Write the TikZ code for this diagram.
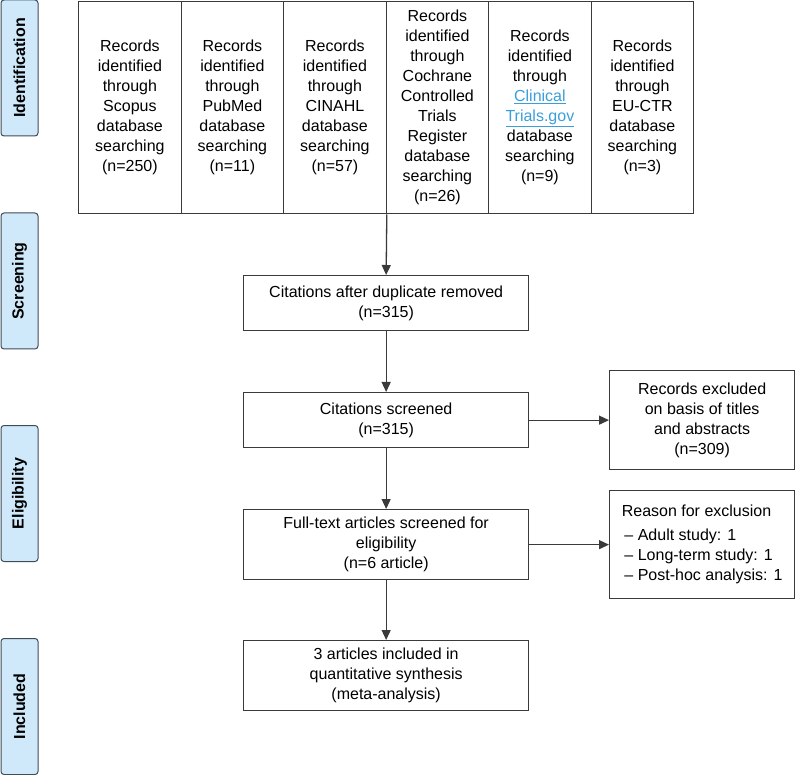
\documentclass[tikz,border=0pt]{standalone}
\usepackage{fontspec}
\setmainfont{Liberation Sans}
\usetikzlibrary{arrows.meta}
\definecolor{linegray}{HTML}{3A3A3A}
\definecolor{lblfill}{HTML}{CFE9FB}
\definecolor{lbldraw}{HTML}{3F4B57}
\definecolor{linkblue}{HTML}{3A9FD9}
\newcommand{\lnk}[1]{{\color{linkblue}\underline{#1}}}
\begin{document}
\begin{tikzpicture}[x=1pt,y=-1pt,
  font=\fontsize{16}{20}\selectfont,
  box/.style={draw=linegray, line width=1.3pt, rectangle, inner sep=0pt, anchor=north west, align=center},
  topbox/.style={box, minimum width=102.5pt, minimum height=212.5pt},
  mainbox/.style={box, minimum width=285pt},
  sidebox/.style={box, minimum width=185pt},
  lbl/.style={draw=lbldraw, fill=lblfill, rounded corners=3pt, line width=1pt, rotate=90,
    minimum width=136pt, minimum height=37pt, inner sep=0pt,
    font=\fontsize{16}{20}\selectfont\bfseries},
  arr/.style={draw=linegray, line width=1.3pt, -{Triangle[length=10pt,width=9pt]}}]

\useasboundingbox (0,0) rectangle (795,775);

% stage labels
\node[lbl] (lid) at (19.5,68) {Identification};
\node[lbl] (lsc) at (19.5,281) {Screening};
\node[lbl] (lel) at (19.5,493.5) {Eligibility};
\node[lbl] (lin) at (19.5,706.5) {Included};

% top row
\node[topbox] (s1) at (78,0.7) {Records\\identified\\through\\Scopus\\database\\searching\\(n=250)};
\node[topbox] (s2) at (180.5,0.7) {Records\\identified\\through\\PubMed\\database\\searching\\(n=11)};
\node[topbox] (s3) at (283,0.7) {Records\\identified\\through\\CINAHL\\database\\searching\\(n=57)};
\node[topbox] (s4) at (385.5,0.7) {Records\\identified\\through\\Cochrane\\Controlled\\Trials\\Register\\database\\searching\\(n=26)};
\node[topbox] (s5) at (488,0.7) {Records\\identified\\through\\\lnk{Clinical}\\\lnk{Trials.gov}\\database\\searching\\(n=9)};
\node[topbox] (s6) at (590.5,0.7) {Records\\identified\\through\\EU-CTR\\database\\searching\\(n=3)};

% main column
\node[mainbox, minimum height=55pt] (b1) at (243,275) {Citations after duplicate removed\\(n=315)};
\node[mainbox, minimum height=55pt] (b2) at (243,392) {Citations screened\\(n=315)};
\node[mainbox, minimum height=70pt] (b3) at (243,509) {Full-text articles screened for\\eligibility\\(n=6 article)};
\node[mainbox, minimum height=70pt] (b4) at (243,640) {3 articles included in\\quantitative synthesis\\(meta-analysis)};

% side boxes
\node[sidebox, minimum height=99pt] (r1) at (609,370) {Records excluded\\on basis of titles\\and abstracts\\(n=309)};
\node[sidebox, minimum height=108pt, align=left] (r2) at (609,490) {Reason for exclusion\\[4pt]\,– Adult study: 1\\\,– Long-term study: 1\\\,– Post-hoc analysis: 1};

% connectors
\draw[arr] (s3.south east) -- (b1.north);
\draw[arr] (b1) -- (b2);
\draw[arr] (b2) -- (b3);
\draw[arr] (b3) -- (b4);
\draw[arr] (b2.east) -- (r1.west);
\draw[arr] (b3.east) -- (r2.west);
\end{tikzpicture}
\end{document}
